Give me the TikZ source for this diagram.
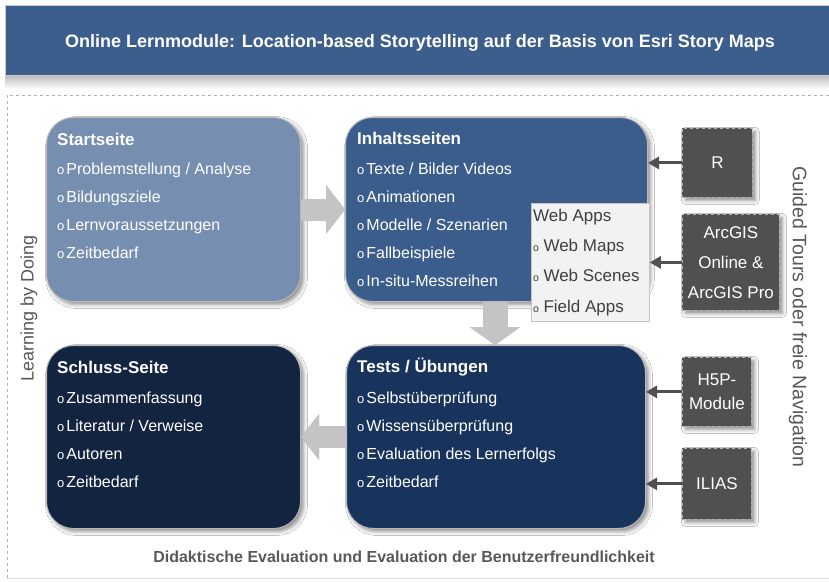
\documentclass[tikz,border=0pt]{standalone}
\usepackage{fontspec}
\setmainfont{Liberation Sans}
\usetikzlibrary{arrows.meta,shadows.blur}

\definecolor{bannerc}{RGB}{59,94,140}
\definecolor{startc}{RGB}{118,143,177}
\definecolor{inhaltc}{RGB}{58,93,139}
\definecolor{schlussc}{RGB}{19,36,64}
\definecolor{testsc}{RGB}{25,52,92}
\definecolor{toolc}{RGB}{80,80,80}
\definecolor{labelc}{RGB}{89,89,89}
\definecolor{webtext}{RGB}{64,64,64}
\definecolor{webfill}{RGB}{242,242,242}
\definecolor{flowc}{RGB}{196,196,196}

% small open-circle bullets
\newcommand{\bul}{{\fontsize{13}{13}\selectfont o}\hspace{2pt}}
\newcommand{\wbul}{{\fontsize{10.5}{10}\selectfont o}\hspace{4.5pt}}

\tikzset{
  softshadow/.style={blur shadow={shadow xshift=3pt, shadow yshift=-3pt,
      shadow blur radius=4pt, shadow opacity=45}},
  page/.style={draw=gray!55, line width=1pt, rounded corners=27pt,
      inner sep=0pt, anchor=north west, softshadow},
  head/.style={anchor=base west, inner sep=0pt, text=white,
      font=\fontsize{17}{20}\selectfont\bfseries},
  item/.style={anchor=base west, inner sep=0pt, text=white,
      font=\fontsize{16}{19}\selectfont},
  wtext/.style={anchor=base west, inner sep=0pt, text=webtext,
      font=\fontsize{17}{20}\selectfont},
  tool/.style={fill=toolc, draw=gray!60, dashed, line width=0.8pt,
      text=white, align=center, inner sep=0pt, anchor=north west,
      font=\fontsize{17}{30}\selectfont, softshadow},
  feed/.style={draw=toolc, line width=3pt, -{Triangle[length=11pt,width=12pt]}},
  flow/.style={draw=flowc},
  flowshade/.style={draw=black, opacity=.22, xshift=2pt, yshift=-2pt},
}

\begin{document}
\begin{tikzpicture}[x=1pt,y=-1pt]
  \useasboundingbox (0,0) rectangle (829,581);
  \fill[white] (0,0) rectangle (829,581);

  % title banner and its shadow
  \shade[top color=gray!55, bottom color=white] (5,75) rectangle (829,89);
  \node[fill=bannerc, draw=gray!40, line width=0.6pt, minimum width=824pt,
        minimum height=70pt, inner sep=0pt, anchor=north west] (banner) at (5,5) {};
  \node[anchor=base, text=white, inner sep=0pt,
        font=\fontsize{18}{21}\selectfont\bfseries] (title) at (420,47)
        {Online Lernmodule: Location-based Storytelling auf der Basis von Esri Story Maps};

  % dashed frame
  \draw[gray!60, dashed, line width=0.8pt] (829,95) -- (7,95) -- (7,578);
  \draw[gray!25, line width=0.8pt] (7,578) -- (829,578);

  % page boxes
  \node[page, fill=startc,   minimum width=254pt, minimum height=184pt] (start)   at (46,117)  {};
  \node[page, fill=inhaltc,  minimum width=302pt, minimum height=184pt] (inhalt)  at (345,117) {};
  \node[page, fill=schlussc, minimum width=254pt, minimum height=183pt] (schluss) at (46,345)  {};
  \node[page, fill=testsc,   minimum width=299pt, minimum height=183pt] (tests)   at (346,345) {};

  % flow between the pages
  \coordinate (down) at (495,0);
  \draw[flowshade, line width=22pt, -{Triangle[length=19pt,width=48pt]}] (start.east) -- (inhalt.west);
  \draw[flow, line width=22pt, -{Triangle[length=19pt,width=48pt]}] (start.east) -- (inhalt.west);
  \draw[flowshade, line width=25pt, -{Triangle[length=18pt,width=50pt]}] (inhalt.south -| down) -- (tests.north -| down);
  \draw[flow, line width=25pt, -{Triangle[length=18pt,width=50pt]}] (inhalt.south -| down) -- (tests.north -| down);
  \draw[flowshade, line width=22pt, -{Triangle[length=18pt,width=45pt]}] (tests.west) -- (schluss.east);
  \draw[flow, line width=22pt, -{Triangle[length=18pt,width=45pt]}] (tests.west) -- (schluss.east);

  % page contents
  \node[head] (start-h) at (57,145) {Startseite};
  \foreach \t [count=\i] in {Problemstellung / Analyse, Bildungsziele, Lernvoraussetzungen, Zeitbedarf}
    \node[item] (start-\i) at (57,{174.5+28*(\i-1)}) {\bul\t};

  \node[head] (inhalt-h) at (357,144) {Inhaltsseiten};
  \foreach \t [count=\i] in {Texte / Bilder Videos, Animationen, Modelle / Szenarien, Fallbeispiele, In-situ-Messreihen}
    \node[item] (inhalt-\i) at (357,{174+28.2*(\i-1)}) {\bul\t};

  \node[head] (schluss-h) at (57,373) {Schluss-Seite};
  \foreach \t [count=\i] in {Zusammenfassung, Literatur / Verweise, Autoren, Zeitbedarf}
    \node[item] (schluss-\i) at (57,{403+28*(\i-1)}) {\bul\t};

  \node[head] (tests-h) at (357,372) {Tests / Übungen};
  \foreach \t [count=\i] in {Selbstüberprüfung, Wissensüberprüfung, Evaluation des Lernerfolgs, Zeitbedarf}
    \node[item] (tests-\i) at (357,{403+28*(\i-1)}) {\bul\t};

  % web apps panel
  \node[draw=gray!45, fill=webfill, line width=0.8pt, minimum width=118pt,
        minimum height=118pt, inner sep=0pt, anchor=north west] (webapps) at (531,203) {};
  \node[wtext] (web-h) at (533,221) {Web Apps};
  \foreach \t [count=\i] in {Web Maps, Web Scenes, Field Apps}
    \node[wtext] (web-\i) at (533,{251+30.7*(\i-1)}) {\wbul\t};

  % tools
  \node[tool, minimum width=70pt, minimum height=69pt] (r) at (682,128) {R};
  \node[tool, minimum width=97pt, minimum height=96pt] (arcgis) at (682,214) {ArcGIS\\Online \&\\ArcGIS Pro};
  \node[tool, minimum width=69pt, minimum height=69pt, font=\fontsize{17}{24}\selectfont] (h5p) at (682,357) {H5P-\\Module};
  \node[tool, minimum width=69pt, minimum height=71pt] (ilias) at (682,448) {ILIAS};

  \draw[feed] (r.west) -- (r.west -| inhalt.east);
  \draw[feed] (arcgis.west) -- (arcgis.west -| webapps.east);
  \draw[feed] (h5p.west) -- (h5p.west -| tests.east);
  \draw[feed] (ilias.west) -- (ilias.west -| tests.east);

  % side and bottom labels
  \node[rotate=90, text=labelc, font=\fontsize{18}{20}\selectfont] (doing) at (29,308) {Learning by Doing};
  \node[rotate=-90, text=labelc, font=\fontsize{19.5}{21}\selectfont] (guided) at (798,317) {Guided Tours oder freie Navigation};
  \node[anchor=base, text=labelc, inner sep=0pt, font=\fontsize{16}{19}\selectfont\bfseries] (eval) at (404,562)
    {Didaktische Evaluation und Evaluation der Benutzerfreundlichkeit};
\end{tikzpicture}
\end{document}
